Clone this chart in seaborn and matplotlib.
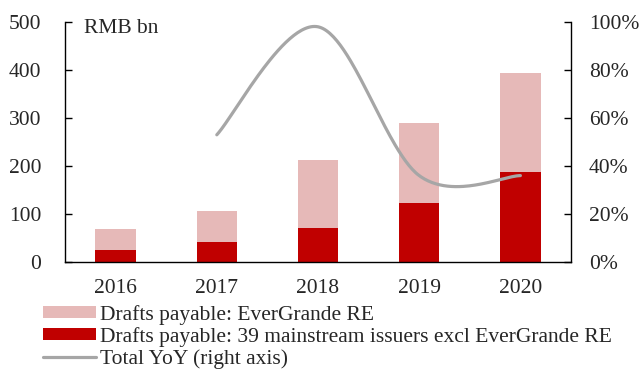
import numpy as np
import pandas as pd
import matplotlib
matplotlib.use("Agg")
import matplotlib.pyplot as plt
import seaborn as sns
from matplotlib.patches import Patch
from matplotlib.lines import Line2D

years = ["2016", "2017", "2018", "2019", "2020"]
total = [69, 106, 212, 290, 393]          # RMB bn, total drafts payable (stack top)
mainstream = [25, 42, 71, 123, 187]       # 39 mainstream issuers excl EverGrande RE
yoy_years = ["2017", "2018", "2019", "2020"]
yoy = [53, 98, 36, 36]                    # Total YoY, %

label_ever = "Drafts payable: EverGrande RE"
label_main = "Drafts payable: 39 mainstream issuers excl EverGrande RE"
label_yoy = "Total YoY (right axis)"

PINK = "#E6B9B8"
RED = "#C00000"
GREY = "#A6A6A6"
FS = 15.5

sns.set_style("white")
plt.rcParams["font.family"] = ["Liberation Serif", "DejaVu Serif"]
plt.rcParams["font.size"] = FS

fig = plt.figure(figsize=(6.39, 3.71), dpi=100)
ax = fig.add_axes([65 / 639, 1 - 262 / 371, (571 - 65) / 639, (262 - 22) / 371])

df = pd.DataFrame({"year": years, "total": total, "main": mainstream})
sns.barplot(data=df, x="year", y="total", color=PINK, width=0.4, ax=ax,
            saturation=1, linewidth=0, order=years)
sns.barplot(data=df, x="year", y="main", color=RED, width=0.4, ax=ax,
            saturation=1, linewidth=0, order=years)

ax.set_xlim(-0.5, len(years) - 0.5)
ax.set_ylim(0, 500)
ax.set_yticks([0, 100, 200, 300, 400, 500])
ax.set_xlabel("")
ax.set_ylabel("")
ax.set_xticks(range(len(years)))
ax.set_xticklabels(years)
ax.set_xticks(np.arange(-0.5, len(years)), minor=True)
ax.tick_params(axis="x", which="major", length=0, pad=12, labelsize=FS)
ax.tick_params(axis="x", which="minor", length=5, direction="out", width=1, color="black")
ax.tick_params(axis="y", which="major", length=5, direction="in", width=1, color="black",
               left=True, labelsize=FS, pad=17)
for s in ["top", "right"]:
    ax.spines[s].set_visible(False)
for s in ["left", "bottom"]:
    ax.spines[s].set_color("black")
    ax.spines[s].set_linewidth(1)

ax.text(0.0375, 0.972, "RMB bn", transform=ax.transAxes, fontsize=FS, va="center", ha="left")

# right axis: smoothed YoY line (Excel-style Bezier smoothing through the data points)
ax2 = ax.twinx()
xs = np.array([years.index(y) for y in yoy_years], dtype=float)
ys = np.array(yoy, dtype=float)
px = np.concatenate([[xs[0]], xs, [xs[-1]]])
py = np.concatenate([[ys[0]], ys, [ys[-1]]])
cx, cy = [], []
t = np.linspace(0, 1, 60)
for i in range(1, len(px) - 2):
    p0 = np.array([px[i], py[i]])
    p3 = np.array([px[i + 1], py[i + 1]])
    c1 = p0 + (np.array([px[i + 1], py[i + 1]]) - np.array([px[i - 1], py[i - 1]])) / 6
    c2 = p3 - (np.array([px[i + 2], py[i + 2]]) - np.array([px[i], py[i]])) / 6
    for tt in t:
        b = ((1 - tt) ** 3) * p0 + 3 * (1 - tt) ** 2 * tt * c1 + 3 * (1 - tt) * tt ** 2 * c2 + tt ** 3 * p3
        cx.append(b[0]); cy.append(b[1])
sns.lineplot(x=cx, y=cy, ax=ax2, color=GREY, linewidth=2.3, sort=False, estimator=None)
ax2.set_ylim(0, 100)
ax2.set_yticks([0, 20, 40, 60, 80, 100])
ax2.set_yticklabels([f"{v}%" for v in [0, 20, 40, 60, 80, 100]])
ax2.tick_params(axis="y", which="major", length=5, direction="in", width=1, color="black",
                right=True, labelsize=FS, pad=13)
for s in ["top", "left", "bottom"]:
    ax2.spines[s].set_visible(False)
ax2.spines["right"].set_color("black")
ax2.spines["right"].set_linewidth(1)
ax2.set_xlim(-0.5, len(years) - 0.5)

handles = [Patch(facecolor=PINK, edgecolor="none"),
           Patch(facecolor=RED, edgecolor="none"),
           Line2D([0], [0], color=GREY, linewidth=2.3)]
fig.legend(handles, [label_ever, label_main, label_yoy], loc="upper left",
           bbox_to_anchor=(43 / 639, 1 - 305 / 371), frameon=False, fontsize=FS,
           handlelength=2.46, handleheight=0.47, handletextpad=0.19, labelspacing=0.1,
           borderpad=0, borderaxespad=0)

fig.savefig("out.png", dpi=100)
